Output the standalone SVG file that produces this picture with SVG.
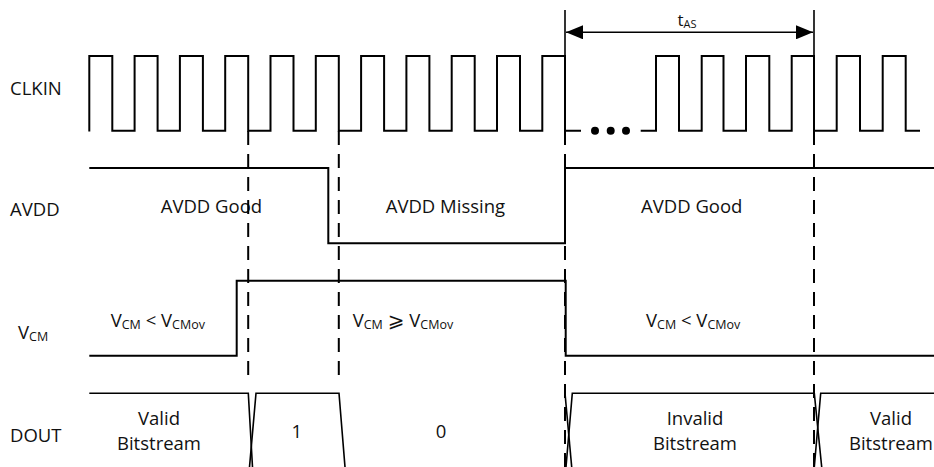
<svg xmlns="http://www.w3.org/2000/svg" width="934" height="467" viewBox="0 0 934 467">
  <style>
    .sig { fill: none; stroke: #000; stroke-width: 2; stroke-linejoin: miter; }
    .bus { fill: none; stroke: #000; stroke-width: 1.6; }
    .dash { fill: none; stroke: #000; stroke-width: 2; stroke-dasharray: 14 9; }
    .solid { fill: none; stroke: #000; stroke-width: 1.6; }
    .t { font-family: "Open Sans", "Liberation Sans", sans-serif; font-size: 18.5px; fill: #111; }
    .sub { font-size: 12.5px; }
    .mid { text-anchor: middle; }
    .math { font-family: "DejaVu Sans", "Open Sans", sans-serif; font-size: 20px; }
  </style>
  <defs>
    <marker id="ah" viewBox="0 0 17 14" refX="17" refY="7" markerWidth="17" markerHeight="14" markerUnits="userSpaceOnUse" orient="auto-start-reverse">
      <path d="M0,0 L17,7 L0,14 Z" fill="#000"/>
    </marker>
  </defs>
  <rect width="934" height="467" fill="#fff"/>

  <g id="labels">
    <text class="t" x="10" y="95">CLKIN</text>
    <text class="t" x="10" y="216">AVDD</text>
    <text class="t" x="18" y="339">V<tspan class="sub" dy="2">CM</tspan></text>
    <text class="t" x="10" y="441.7">DOUT</text>
  </g>

  <g id="clkin">
    <path class="sig" d="M89.3,131.5 V56 H112.3 V130.7 H134.6 V56 H157.6 V130.7 H179.9 V56 H202.9 V130.7 H225.2 V56 H248.2 V130.7 H270.5 V56 H293.5 V130.7 H315.8 V56 H338.8 V130.7 H361.1 V56 H384.1 V130.7 H406.4 V56 H429.4 V130.7 H451.7 V56 H474.7 V130.7 H497 V56 H520 V130.7 H542.3 V56 H565 V130.7 H581"/>
    <circle cx="595" cy="130.7" r="4" fill="#000"/>
    <circle cx="610.7" cy="130.7" r="4" fill="#000"/>
    <circle cx="626" cy="130.7" r="4" fill="#000"/>
    <path class="sig" d="M640.7,130.7 H656 V56 H679 V130.7 H701.7 V56 H723.5 V130.7 H746 V56 H769.3 V130.7 H791.7 V56 H814 V130.7 H836.7 V56 H860 V130.7 H882.7 V56 H905.7 V130.7 H920"/>
  </g>

  <g id="avdd">
    <path class="sig" d="M89.3,168 H328.3 V243.3 H565 V168 H934"/>
    <text class="t" x="160.7" y="212.7">AVDD Good</text>
    <text class="t" x="385.7" y="212.7">AVDD Missing</text>
    <text class="t" x="641" y="212.7">AVDD Good</text>
  </g>

  <g id="vcm">
    <path class="sig" d="M89.3,355.7 H236.7 V280.7 H565.7 V355.7 H934"/>
    <text class="t" x="110.7" y="326.7">V<tspan class="sub" dy="2">CM</tspan><tspan dy="-2"> &lt; V</tspan><tspan class="sub" dy="2">CMov</tspan></text>
    <text class="t" x="352.7" y="326.7">V<tspan class="sub" dy="2">CM</tspan><tspan dy="-2"> </tspan><tspan class="math">⩾</tspan><tspan> V</tspan><tspan class="sub" dy="2">CMov</tspan></text>
    <text class="t" x="646" y="326.7">V<tspan class="sub" dy="2">CM</tspan><tspan dy="-2"> &lt; V</tspan><tspan class="sub" dy="2">CMov</tspan></text>
  </g>

  <g id="dout">
    <path class="bus" d="M89.3,393.3 H248.3 L252.5,467"/>
    <path class="bus" d="M249.5,467 L256,393.3 H339 L345,467"/>
    <path class="bus" d="M565,393.3 L571.7,467"/>
    <path class="bus" d="M566,467 L572.3,393.3 H814.3 L821.7,467"/>
    <path class="bus" d="M814.3,467 L820.7,393.3 H934"/>
    <text class="t mid" x="159" y="425">Valid</text>
    <text class="t mid" x="159" y="450">Bitstream</text>
    <text class="t mid" x="296.7" y="437.7">1</text>
    <text class="t mid" x="441" y="437.7">0</text>
    <text class="t mid" x="695" y="425">Invalid</text>
    <text class="t mid" x="695" y="450">Bitstream</text>
    <text class="t mid" x="891" y="425">Valid</text>
    <text class="t mid" x="891" y="450">Bitstream</text>
  </g>

  <g id="connectors">
    <path class="dash" d="M248.2,131 V383"/>
    <path class="dash" d="M338.8,131 V383"/>
    <path class="dash" d="M565,131 V467"/>
    <path class="dash" d="M814,131 V467"/>
    <path class="solid" d="M565,10 V56"/>
    <path class="solid" d="M814,10 V56"/>
    <path class="solid" d="M566,32.3 H813" marker-start="url(#ah)" marker-end="url(#ah)"/>
    <text class="t" x="677.5" y="26" style="font-size:17px">t<tspan style="font-size:11px" dy="1.5">AS</tspan></text>
  </g>
</svg>
